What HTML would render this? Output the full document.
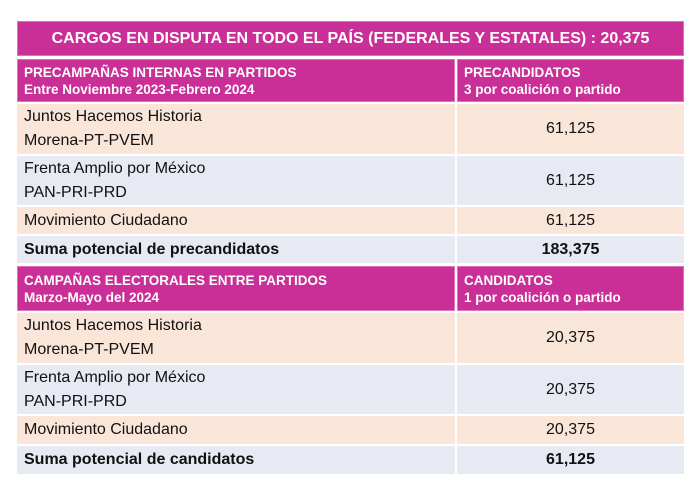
<!DOCTYPE html>
<html><head><style>
body{margin:0;width:700px;height:481px;background:#fff;position:relative;overflow:hidden;font-family:"Liberation Sans",Arial,sans-serif;}
.c{position:absolute;box-sizing:border-box;display:flex;flex-direction:column;justify-content:center;}
.m{background:#c92f97;color:#fff;font-weight:bold;font-size:13.5px;line-height:17px;padding-left:6px;border:1px solid #e070b8;}
.p{background:#f9e6d9;color:#111;font-size:16px;line-height:24px;padding-left:7px;font-family:"Liberation Sans Narrow","Liberation Sans",sans-serif;}
.l{background:#e7e9f3;color:#111;font-size:16px;line-height:24px;padding-left:7px;font-family:"Liberation Sans Narrow","Liberation Sans",sans-serif;}
.n{align-items:center;padding-left:0;font-size:16px;}
.b{font-weight:bold;font-size:16px;font-family:"Liberation Sans",sans-serif;}
</style></head><body>
<div class="c m" style="left:17px;top:21px;width:667px;height:35px;font-size:16px;align-items:center;padding:0">CARGOS EN DISPUTA EN TODO EL PAÍS (FEDERALES Y ESTATALES) : 20,375</div>

<div class="c m" style="left:17px;top:59px;width:438px;height:43px">PRECAMPAÑAS INTERNAS EN PARTIDOS<br>Entre Noviembre 2023-Febrero 2024</div>
<div class="c m" style="left:457px;top:59px;width:227px;height:43px">PRECANDIDATOS<br>3 por coalición o partido</div>

<div class="c p" style="left:17px;top:104px;width:438px;height:50px">Juntos Hacemos Historia<br>Morena-PT-PVEM</div>
<div class="c p n" style="left:457px;top:104px;width:227px;height:50px">61,125</div>
<div class="c l" style="left:17px;top:156px;width:438px;height:49px">Frenta Amplio por México<br>PAN-PRI-PRD</div>
<div class="c l n" style="left:457px;top:156px;width:227px;height:49px">61,125</div>
<div class="c p" style="left:17px;top:207px;width:438px;height:27px">Movimiento Ciudadano</div>
<div class="c p n" style="left:457px;top:207px;width:227px;height:27px">61,125</div>
<div class="c l b" style="left:17px;top:236px;width:438px;height:27px">Suma potencial de precandidatos</div>
<div class="c l n b" style="left:457px;top:236px;width:227px;height:27px">183,375</div>

<div class="c m" style="left:17px;top:266px;width:438px;height:45px">CAMPAÑAS ELECTORALES ENTRE PARTIDOS<br>Marzo-Mayo del 2024</div>
<div class="c m" style="left:457px;top:266px;width:227px;height:45px">CANDIDATOS<br>1 por coalición o partido</div>

<div class="c p" style="left:17px;top:313px;width:438px;height:50px">Juntos Hacemos Historia<br>Morena-PT-PVEM</div>
<div class="c p n" style="left:457px;top:313px;width:227px;height:50px">20,375</div>
<div class="c l" style="left:17px;top:365px;width:438px;height:49px">Frenta Amplio por México<br>PAN-PRI-PRD</div>
<div class="c l n" style="left:457px;top:365px;width:227px;height:49px">20,375</div>
<div class="c p" style="left:17px;top:416px;width:438px;height:28px">Movimiento Ciudadano</div>
<div class="c p n" style="left:457px;top:416px;width:227px;height:28px">20,375</div>
<div class="c l b" style="left:17px;top:446px;width:438px;height:28px">Suma potencial de candidatos</div>
<div class="c l n b" style="left:457px;top:446px;width:227px;height:28px">61,125</div>
</body></html>
